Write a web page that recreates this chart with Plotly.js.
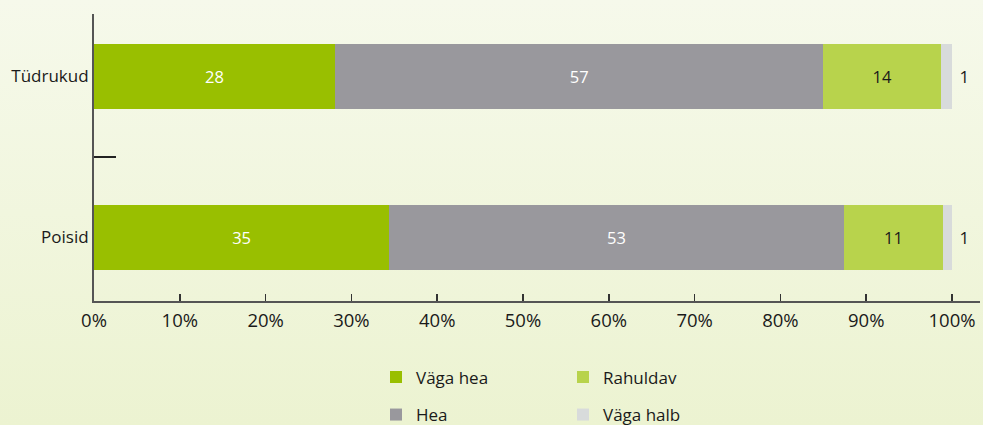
<!DOCTYPE html>
<html>
<head>
<meta charset="utf-8">
<script src="https://cdn.plot.ly/plotly-3.0.1.min.js"></script>
<style>
  html, body { margin: 0; padding: 0; }
  body { width: 983px; height: 425px; background: linear-gradient(to bottom, #F6F9EB 0%, #ECF3D1 100%); overflow: hidden; }
  #chart { width: 983px; height: 425px; }
</style>
</head>
<body>
<div id="chart"></div>
<script>
// Categories (bottom to top)
const categories = ['Poisid', 'Tüdrukud'];

// Series values in percent
const vagaHea   = [34.4, 28.1];
const hea       = [53.0, 56.9];
const rahuldav  = [11.55, 13.75];
const vagaHalb  = [1.05, 1.25];

// Printed labels
const vagaHeaLabels  = ['35', '28'];
const heaLabels      = ['53', '57'];
const rahuldavLabels = ['11', '14'];
const vagaHalbLabels = ['1', '1'];

// X ticks
const xTicks = [0, 10, 20, 30, 40, 50, 60, 70, 80, 90, 100];
const xTickLabels = ['0%', '10%', '20%', '30%', '40%', '50%', '60%', '70%', '80%', '90%', '100%'];

const FONT = 'Open Sans, sans-serif';
const DARK = '#1a1a1a';

function barTrace(name, vals, labels, color, textColor, pos, legend) {
  return {
    type: 'bar', orientation: 'h', name: name,
    y: categories, x: vals,
    text: labels, textposition: pos,
    insidetextanchor: 'middle',
    textfont: {family: FONT, size: 16.5, color: textColor},
    outsidetextfont: {family: FONT, size: 17, color: textColor},
    insidetextfont: {family: FONT, size: 16.5, color: textColor},
    marker: {color: color, line: {width: 0}},
    hoverinfo: 'skip', legend: legend, cliponaxis: false
  };
}

const data = [
  barTrace('Väga hea', vagaHea, vagaHeaLabels, '#99BF00', '#ffffff', 'inside', 'legend'),
  barTrace('Hea', hea, heaLabels, '#99989D', '#ffffff', 'inside', 'legend2'),
  barTrace('Rahuldav', rahuldav, rahuldavLabels, '#B8D34C', DARK, 'inside', 'legend'),
  barTrace('Väga halb', vagaHalb, vagaHalbLabels.map(t => '\u00a0' + t), '#D8DBDB', DARK, 'outside', 'legend2')
];

const legendCommon = {
  orientation: 'h', xref: 'container', yref: 'container',
  xanchor: 'left', yanchor: 'middle', traceorder: 'normal',
  entrywidth: 142, entrywidthmode: 'pixels', itemwidth: 30,
  font: {family: FONT, size: 17, color: DARK},
  bgcolor: 'rgba(0,0,0,0)', borderwidth: 0
};

const layout = {
  width: 983, height: 425,
  margin: {l: 94, r: 3, t: 14, b: 124},
  paper_bgcolor: 'rgba(0,0,0,0)',
  plot_bgcolor: 'rgba(0,0,0,0)',
  barmode: 'stack',
  bargap: 0.596,
  showlegend: true,
  font: {family: FONT, color: DARK},
  xaxis: {
    range: [0, 103.26], tickmode: 'array', tickvals: xTicks, ticktext: xTickLabels,
    ticks: 'inside', ticklen: 7, tickwidth: 1.5, tickcolor: '#333',
    showline: true, linecolor: '#555', linewidth: 2,
    showgrid: false, zeroline: false,
    tickfont: {family: FONT, size: 18.5, color: DARK},
    ticklabelstandoff: 2, fixedrange: true
  },
  yaxis: {
    type: 'category', categoryorder: 'array', categoryarray: categories,
    range: [-0.394, 1.388],
    ticks: 'inside', tickson: 'boundaries', ticklen: 22, tickwidth: 1.5, tickcolor: '#222',
    showline: true, linecolor: '#555', linewidth: 2,
    showgrid: false, zeroline: false,
    tickfont: {family: FONT, size: 17, color: DARK},
    ticklabelstandoff: 0, fixedrange: true
  },
  legend: Object.assign({}, legendCommon, {x: 376 / 983, y: 1 - 377.5 / 425}),
  legend2: Object.assign({}, legendCommon, {x: 376 / 983, y: 1 - 415 / 425})
};

Plotly.newPlot('chart', data, layout, {displayModeBar: false, staticPlot: true});
</script>
</body>
</html>
